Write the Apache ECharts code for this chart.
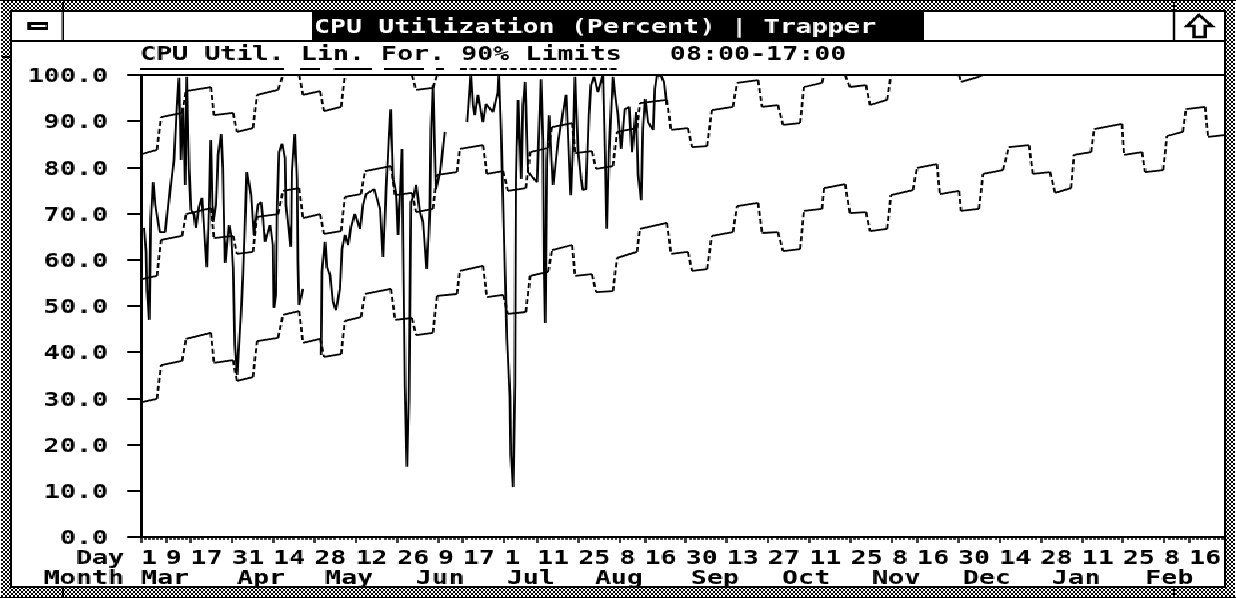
<!DOCTYPE html>
<html><head><meta charset="utf-8">
<script src="https://cdn.jsdelivr.net/npm/echarts@6/dist/echarts.min.js"></script>
<style>
html,body{margin:0;padding:0;width:1236px;height:598px;overflow:hidden;background:#fff}
#back{position:absolute;left:1px;top:1px;width:1234px;height:596px;background:repeating-conic-gradient(#000 0 25%,#fff 0 50%) 0 0/4px 4px}
#win{position:absolute;left:10px;top:10px;width:1212px;height:574px;border:2px solid #000;background:#fff}
.r{position:absolute;background:#000}
#chart{position:absolute;left:0;top:0;width:927px;height:598px;transform-origin:0 0;transform:scaleX(1.33333)}
#chart canvas{image-rendering:pixelated}
</style></head><body>
<div id="back"></div><div id="win"></div>
<div class="r" style="left:0;top:0;width:1236px;height:1px"></div>
<div class="r" style="left:0;top:597px;width:1236px;height:1px"></div>
<div class="r" style="left:62px;top:2px;width:2px;height:10px"></div>
<div class="r" style="left:62px;top:587px;width:2px;height:10px"></div>
<div class="r" style="left:1173px;top:2px;width:2px;height:10px"></div>
<div class="r" style="left:1173px;top:587px;width:2px;height:10px"></div>
<div class="r" style="left:2px;top:56px;width:8px;height:2px"></div>
<div id="chart"></div>
<script>
// Axis position: 1 unit = one calendar day of the chart's x scale
const dayLabels = ['1','9','17','31','14','28','12','26','9','17','1','11','25','8','16','30','13','27','11','25','8','16','30','14','28','11','25','8','16'];
const dayTicks = [0,8.25,16.5,30.3,44,57.8,71.5,85.3,99,107.3,121,132,145.8,159.5,167.8,181.5,195.3,209,222.8,236.6,250.3,258.6,272.3,286.1,299.8,313.6,327.3,341,349.3];
const monthLabels = ['Mar','Apr','May','Jun','Jul','Aug','Sep','Oct','Nov','Dec','Jan','Feb'];
const monthTicks = [0,32,61.3,91.7,122,151.3,183.3,213.7,243.7,274,303.7,334.7];
const xMax = 361;

const actualDay = [1,1.7,2,2.7,3.3,4,4.7,6.3,8,9.7,11,12,12.7,13.3,14,14.7,15.3,16,16.7,17.7,18.3,19.3,20.3,22,22.7,23.3,24,25,25.7,26.7,27.3,28,29.3,30,30.7,31.3,32,32.3,33.3,34,34.7,35.3,36,36.7,37.7,38,39,40,40.7,41.3,43,44,44.3,45,45.3,46,47,48,48.3,50,50.3,51.3,52,52.3,52.7,54,55,
60,60.3,61.3,62,63,64,65,66.3,67,68,69,70,71.3,73,74,75,77.7,79.7,80.7,81.7,82.7,83.3,84,85,85.7,87,87.3,88,88.7,89.3,90,91,91.7,93,94,95.3,96.3,96.7,97.3,98.3,99.7,101.3,102,
108.7,110,110.7,111.3,112.3,114,115,117.3,119,119.3,120,121.3,122,123,123.3,124,124.7,125,125.7,126.7,127.3,128,128.3,129,132,133,133.3,134,134.3,134.7,135.3,136,136.7,137.3,139,140.7,141.7,142.3,143.3,144,144.7,145.7,146.7,147.3,148.3,149.3,150,151,152.3,153.3,154,154.7,155.3,156,157.3,158,159,160,161.3,162.7,163.7,165,165.7,166.7,167.3,168,169,170.7,171.3,172,173.3,174.3,175.3];
const actualUtil = [66.9,61.7,53.5,47,69,76.8,71.9,66,66,75.1,81.6,93.3,99.4,81.6,92.9,76.2,99.6,79.7,70.8,69.7,66.9,71.4,73.4,58.4,70.8,85.9,68.2,71.9,82.7,87.2,79.9,59.3,67.5,65.4,58.2,41.6,35.1,38.3,48.1,56.7,68.6,79,79,74,65.4,67.5,71.9,72.5,68.8,63.9,67.5,63.2,49.6,52.4,70.3,83.3,85.1,82,71.9,62.8,79,87.2,77.5,59.5,50.2,53.7,null,
39.4,57.4,63.9,58.4,56.7,50.9,49.1,53.7,62.3,65.4,63.2,67.1,69.9,66.7,71.9,74.2,75.3,71,60.6,75.3,86.6,92.6,77.5,74.7,65.4,84,66.7,32.5,15.2,29.9,72.5,74,76.2,70.3,68.2,58,71,88.3,97.8,75.3,79,87.7,null,
89.8,99.8,93.5,91.3,95.7,89.8,93.7,92,96.3,99.8,88.1,58,42.9,30.3,17.7,10.8,33.5,77.5,94.6,77.5,93.5,98.5,93.5,79,76.8,93.5,99.1,85.9,58,46.3,81.6,91.3,82.7,76.2,85.5,92,95.7,87.7,74,84,99.6,83.3,77.5,75.1,75.3,91.3,97.8,99.6,96.3,98.5,100,83.3,66.7,83.3,99.6,95.7,91.3,84,92.6,93.1,83.3,92,78.4,72.9,88.3,94.8,89.8,88.1,97,99.8,99.8,98.5,93.5];

const runStart = [0.3,6.7,15,24.3,32,38.7,47.3,54,61,68,74.7,84.7,91.7,98.7,106.3,115.3,122.3,129.7,137,144.7,151.7,158.7,166.3,176.7,183.7,190.3,198.7,207,214,221,227.7,236.3,243,250,258.7,266.3,273.3,280.7,289.3,297.3,304.7,311,317.7,327.7,334.7,342,348.3,355.7];
const runEnd = [5.3,13.7,23.3,30.7,37.3,45.7,52.7,59.7,66.7,73.3,83.3,90.3,97.3,105.3,114,120.7,128.3,135.7,143.7,150.3,157.3,165.3,175.3,182.3,188.7,197.3,205.7,212.3,219.7,227,234.7,241.7,248.7,257.3,265.3,272.7,279.3,287.3,296,303,310,316.7,327,333.7,340.7,347.3,354.7,361];
const lowerStart = [29.2,37.2,42.9,37.7,33.8,42.4,48.1,42,39,46.8,52.6,47,43.7,52.2,57.6,51.9,48.3,56.5,62.1,56.5,53,60.4,66.7,61.3,57.6,65.2,71.6,65.8,61.9,70.6,75.5,70.1,66.2,74,79.9,74.2,70.6,78.6,84.4,78.6,74.5,82.7,88.3,82.7,79,86.8,92.6,86.6];
const lowerEnd = [29.9,38.1,44.2,38.3,34.6,43.1,48.9,42.9,39.6,47.6,53.7,47.4,44.2,52.6,58.7,52.4,48.7,57.4,63.2,56.9,53.2,61.7,68,61.7,58,66,72.3,66,62.3,71,76.4,70.3,66.7,75.1,80.7,74.9,71,79.4,84.8,79,75.5,83.3,89.4,83.3,79.4,87.7,93.1,87];
const forecastStart = [55.8,64.3,69.9,64.7,61.3,69.3,74.9,69,65.6,73.6,79.2,74,70.3,78.4,84,78.6,74.9,83.3,88.7,83.1,79.7,87.7,93.9,88.1,84.4,92.4,98.3,93.1,89.2,97.4,100,97.4,93.5,100,100,100,98.5,100,100,100,100,100,100,100,100,100,100,100];
const forecastEnd = [56.5,65.2,71.2,65.2,61.7,69.9,75.5,69.9,66.2,74.2,80.3,74.5,71,79,84.8,79.2,75.5,84.2,89.6,83.5,80.3,88.5,94.6,88.5,84.6,93.1,98.9,93.5,89.6,98.3,100,97.8,94.6,100,100,100,99.6,100,100,100,100,100,100,100,100,100,100,100];
const upperStart = [82.9,90.9,96.5,91.3,87.7,95.7,100,95.7,92.2,100,100,100,96.8,100,100,100,100,100,100,100,100,100,100,100,100,100,100,100,100,100,100,100,100,100,100,100,100,100,100,100,100,100,100,100,100,100,100,100];
const upperEnd = [83.8,91.8,97.4,91.8,88.5,96.8,100,96.5,93.1,100,100,100,97.2,100,100,100,100,100,100,100,100,100,100,100,100,100,100,100,100,100,100,100,100,100,100,100,100,100,100,100,100,100,100,100,100,100,100,100];

const titleText = 'CPU Utilization (Percent) | Trapper';
const subText = 'CPU Util. Lin. For. 90% Limits   08:00-17:00';

const FONT = {fontFamily:'"DejaVu Sans Mono",monospace',fontWeight:'bold',fontSize:20,color:'#000'};
const sx = v => v*0.75;
const LW = 1.8;

function flat(s,e){const d=[];s.forEach((v,i)=>{d.push([runStart[i],v],[runEnd[i],e[i]],[runEnd[i],null]);});return d;}
function links(s,e){const d=[];for(let i=0;i<s.length-1;i++){d.push([runEnd[i],e[i]],[runStart[i+1],s[i+1]],[runStart[i+1],null]);}return d;}
function runSeries(name,s,e){return [
 {name,type:'line',data:flat(s,e),symbol:'none',connectNulls:false,lineStyle:{color:'#000',width:LW},animation:false},
 {name:name+' (link)',type:'line',data:links(s,e),symbol:'none',connectNulls:false,lineStyle:{color:'#000',width:LW,type:[5,3]},animation:false}
];}
const minorTicks=[];for(let i=0;i*1.3753<=xMax;i++)minorTicks.push(+(i*1.3753).toFixed(3));
const rectG=(x,y,w,h,fill)=>({type:'rect',silent:true,z:0,shape:{x:sx(x),y,width:sx(w),height:h},style:{fill:fill||'#000'}});
const lineG=(x1,x2,y,dash)=>({type:'line',silent:true,z:0,shape:{x1:sx(x1),y1:y,x2:sx(x2),y2:y},style:{stroke:'#000',lineWidth:2,lineDash:dash||null}});
const txtG=(text,x,y)=>({type:'text',silent:true,z:5,style:{text,x:sx(x),y,textAlign:'right',textVerticalAlign:'top',fill:'#000',font:'bold 20px "DejaVu Sans Mono",monospace'}});

const chart=echarts.init(document.getElementById('chart'),null,{renderer:'canvas',width:927,height:598});
chart.setOption({
 animation:false,backgroundColor:'transparent',
 title:[
  {text:titleText,left:sx(314),top:18,padding:0,z:10,textStyle:{...FONT,color:'#fff'}},
  {text:subText,left:sx(140),top:45,padding:0,z:10,textStyle:{...FONT}}
 ],
 grid:{left:sx(141),right:927-sx(1224),top:75,bottom:61,containLabel:false},
 xAxis:[
  {type:'value',position:'bottom',min:0,max:xMax,splitLine:{show:false},
   axisLine:{onZero:false,lineStyle:{color:'#000',width:2}},
   axisTick:{customValues:dayTicks,length:6,lineStyle:{color:'#000',width:1.5}},
   axisLabel:{customValues:dayTicks,margin:12,align:'left',verticalAlign:'top',hideOverlap:false,...FONT,
     formatter:v=>{const i=dayTicks.findIndex(t=>Math.abs(t-v)<1e-6);return i<0?'':dayLabels[i];}}},
  {type:'value',position:'bottom',min:0,max:xMax,splitLine:{show:false},
   axisLine:{show:false,onZero:false},
   axisTick:{customValues:minorTicks,length:3,lineStyle:{color:'#000',width:1.5}},
   axisLabel:{customValues:monthTicks,margin:32,align:'left',verticalAlign:'top',hideOverlap:false,...FONT,
     formatter:v=>{const i=monthTicks.findIndex(t=>Math.abs(t-v)<1e-6);return i<0?'':monthLabels[i];}}},
  {type:'value',position:'top',min:0,max:xMax,splitLine:{show:false},axisTick:{show:false},axisLabel:{show:false},
   axisLine:{show:true,onZero:false,lineStyle:{color:'#000',width:2}}}
 ],
 yAxis:{type:'value',min:0,max:100,interval:10,splitLine:{show:false},
  axisLine:{show:true,onZero:false,lineStyle:{color:'#000',width:2}},
  axisTick:{show:true,length:10.5,lineStyle:{color:'#000',width:2}},
  axisLabel:{margin:24.75,hideOverlap:false,...FONT,formatter:v=>'{a|'+v.toFixed(1)+'}',rich:{a:{...FONT,padding:[4,0,0,0]}}}},
 graphic:[
  rectG(12,40,1212,2),rectG(62,12,2,28),rectG(1173,12,2,28),rectG(312,12,612,28),
  rectG(27,22,21,8),rectG(31,25,15,2,'#fff'),
  {type:'polygon',silent:true,z:0,shape:{points:[[1199,15],[1212,26],[1205,26],[1205,37],[1194,37],[1194,26],[1187,26]].map(p=>[sx(p[0]),p[1]])},style:{fill:'#fff',stroke:'#000',lineWidth:2.5}},
  lineG(140,284,69),lineG(300,320,69),lineG(334,372,69),lineG(384,424,69),lineG(436,444,69),lineG(460,620,69,[5,2.5]),
  txtG('Day',124,549),txtG('Month',124,569)
 ],
 series:[
  {name:'CPU Util.',type:'line',data:actualDay.map((d,i)=>[d,actualUtil[i]]),symbol:'none',connectNulls:false,lineStyle:{color:'#000',width:LW},animation:false},
  ...runSeries('Lower limit',lowerStart,lowerEnd),
  ...runSeries('Lin. For.',forecastStart,forecastEnd),
  ...runSeries('Upper limit',upperStart,upperEnd)
 ]
});
</script></body></html>
